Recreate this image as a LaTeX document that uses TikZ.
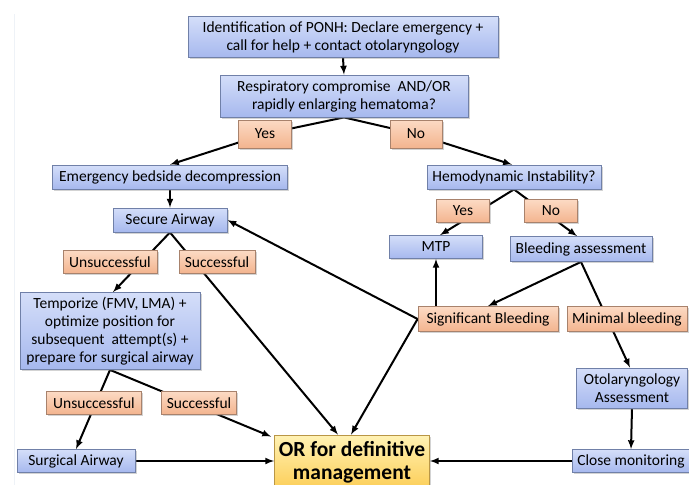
\documentclass[tikz,border=0pt]{standalone}
\usepackage{fontspec}
\setmainfont{Carlito}
\usetikzlibrary{arrows,calc,shadows,backgrounds}

\definecolor{boxblue}{RGB}{212,222,249}
\definecolor{boxblue2}{RGB}{166,184,238}
\definecolor{edgeblue}{RGB}{112,128,168}
\definecolor{boxpeach}{RGB}{252,218,196}
\definecolor{boxpeach2}{RGB}{243,180,142}
\definecolor{edgepeach}{RGB}{168,130,108}
\definecolor{boxyellow}{RGB}{255,242,180}
\definecolor{boxyellow2}{RGB}{252,206,88}
\definecolor{edgeyellow}{RGB}{185,150,70}
\definecolor{pagegray}{RGB}{238,242,247}

\begin{document}
\begin{tikzpicture}[x=1pt,y=-1pt,
    font=\fontsize{15.5}{18}\selectfont,
    boxbase/.style={draw,line width=0.8pt,inner sep=1pt,align=center,
      drop shadow={shadow xshift=1.5pt,shadow yshift=-1.5pt,opacity=0.35,fill=gray}},
    bluebox/.style={boxbase,draw=edgeblue,top color=boxblue,bottom color=boxblue2},
    peachbox/.style={boxbase,draw=edgepeach,top color=boxpeach,bottom color=boxpeach2},
    orbox/.style={boxbase,draw=edgeyellow,top color=boxyellow,bottom color=boxyellow2,
      font=\fontsize{21.5}{23}\selectfont\bfseries},
    link/.style={line width=2pt}]
  \useasboundingbox (0,0) rectangle (689,485);
  % boxes, left branch
  \node[bluebox,minimum width=310,minimum height=41](ident)at(343,37){Identification of PONH: Declare emergency +\\call for help + contact otolaryngology};
  \node[bluebox,minimum width=248,minimum height=42](resp)at(344,96){Respiratory compromise\ \ AND/OR\\rapidly enlarging hematoma?};
  \node[peachbox,minimum width=53,minimum height=28](yesa)at(265,134){Yes};
  \node[peachbox,minimum width=52,minimum height=28](noa)at(416,134){No};
  \node[bluebox,minimum width=235,minimum height=24](emerg)at(170,177){Emergency bedside decompression};
  \node[bluebox,minimum width=114,minimum height=24](secure)at(170,220){Secure Airway};
  \node[peachbox,minimum width=94,minimum height=23](unsa)at(110,262){Unsuccessful};
  \node[peachbox,minimum width=76,minimum height=23](suca)at(217,262){Successful};
  \node[bluebox,minimum width=180,minimum height=77](temp)at(110,331){Temporize (FMV, LMA) +\\optimize position for\\subsequent\ \ attempt(s) +\\prepare for surgical airway};
  \node[peachbox,minimum width=95,minimum height=23](unsb)at(94,403){Unsuccessful};
  \node[peachbox,minimum width=75,minimum height=23](sucb)at(199,403){Successful};
  \node[bluebox,minimum width=118,minimum height=23](surg)at(76,461){Surgical Airway};
  \node[orbox,minimum width=155,minimum height=54](or)at(352,462){OR for definitive\\management};
  % boxes, right branch
  \node[bluebox,minimum width=174,minimum height=24](hemo)at(514,177){Hemodynamic Instability?};
  \node[peachbox,minimum width=53,minimum height=23](yesb)at(463,211){Yes};
  \node[peachbox,minimum width=53,minimum height=23](nob)at(551,211){No};
  \node[bluebox,minimum width=93,minimum height=23](mtp)at(436,247){MTP};
  \node[bluebox,minimum width=142,minimum height=25](bleed)at(581,249){Bleeding assessment};
  \node[peachbox,minimum width=140,minimum height=25](sig)at(488,319){Significant Bleeding};
  \node[peachbox,minimum width=120,minimum height=25](mini)at(627,319){Minimal bleeding};
  \node[bluebox,minimum width=111,minimum height=40](oto)at(632,388){Otolaryngology\\Assessment};
  \node[bluebox,minimum width=118,minimum height=23](close)at(631,461){Close monitoring};
  % connectors
  \begin{pgfonlayer}{background}
    \draw[pagegray,line width=1pt] (14,14) -- (14,485);
    \draw[link,-latex] (ident.south) -- (resp.north);
    \draw[link] (resp.south) -- (yesa.center);
    \draw[link] (resp.south) -- (noa.center);
    \draw[link,-latex] (yesa.center) -- (emerg.north);
    \draw[link,-latex] (noa.center) -- ($(hemo.north)+(-2,0)$);
    \draw[link,-latex] (emerg.south) -- (secure.north);
    \draw[link,-latex] (secure.south) -- ($(temp.north)+(3,0)$);
    \draw[link,-latex] (secure.south) -- ($(or.north)+(-14,0)$);
    \draw[link,-latex] (temp.south) -- (surg.north);
    \draw[link,-latex] (temp.south) -- ($(or.north west)+(-3,2)$);
    \draw[link,-latex] (surg.east) -- (surg.east -| or.west);
    \draw[link,-latex] (hemo.south) -- ($(mtp.north)+(4,0)$);
    \draw[link,-latex] (hemo.south) -- ($(bleed.north)+(-4,0)$);
    \draw[link,-latex] (bleed.south) -- (sig.north);
    \draw[link,-latex] (bleed.south) -- ($(oto.north)+(-2,0)$);
    \draw[link,-latex] (sig.north -| mtp) -- (mtp.south);
    \draw[link,-latex] (sig.west) -- (secure.east);
    \draw[link,-latex] (sig.west) -- ($(or.north)+(-1,0)$);
    \draw[link,-latex] (oto.south) -- (close.north);
    \draw[link,-latex] (close.west) -- (close.west -| or.east);
  \end{pgfonlayer}
\end{tikzpicture}
\end{document}
